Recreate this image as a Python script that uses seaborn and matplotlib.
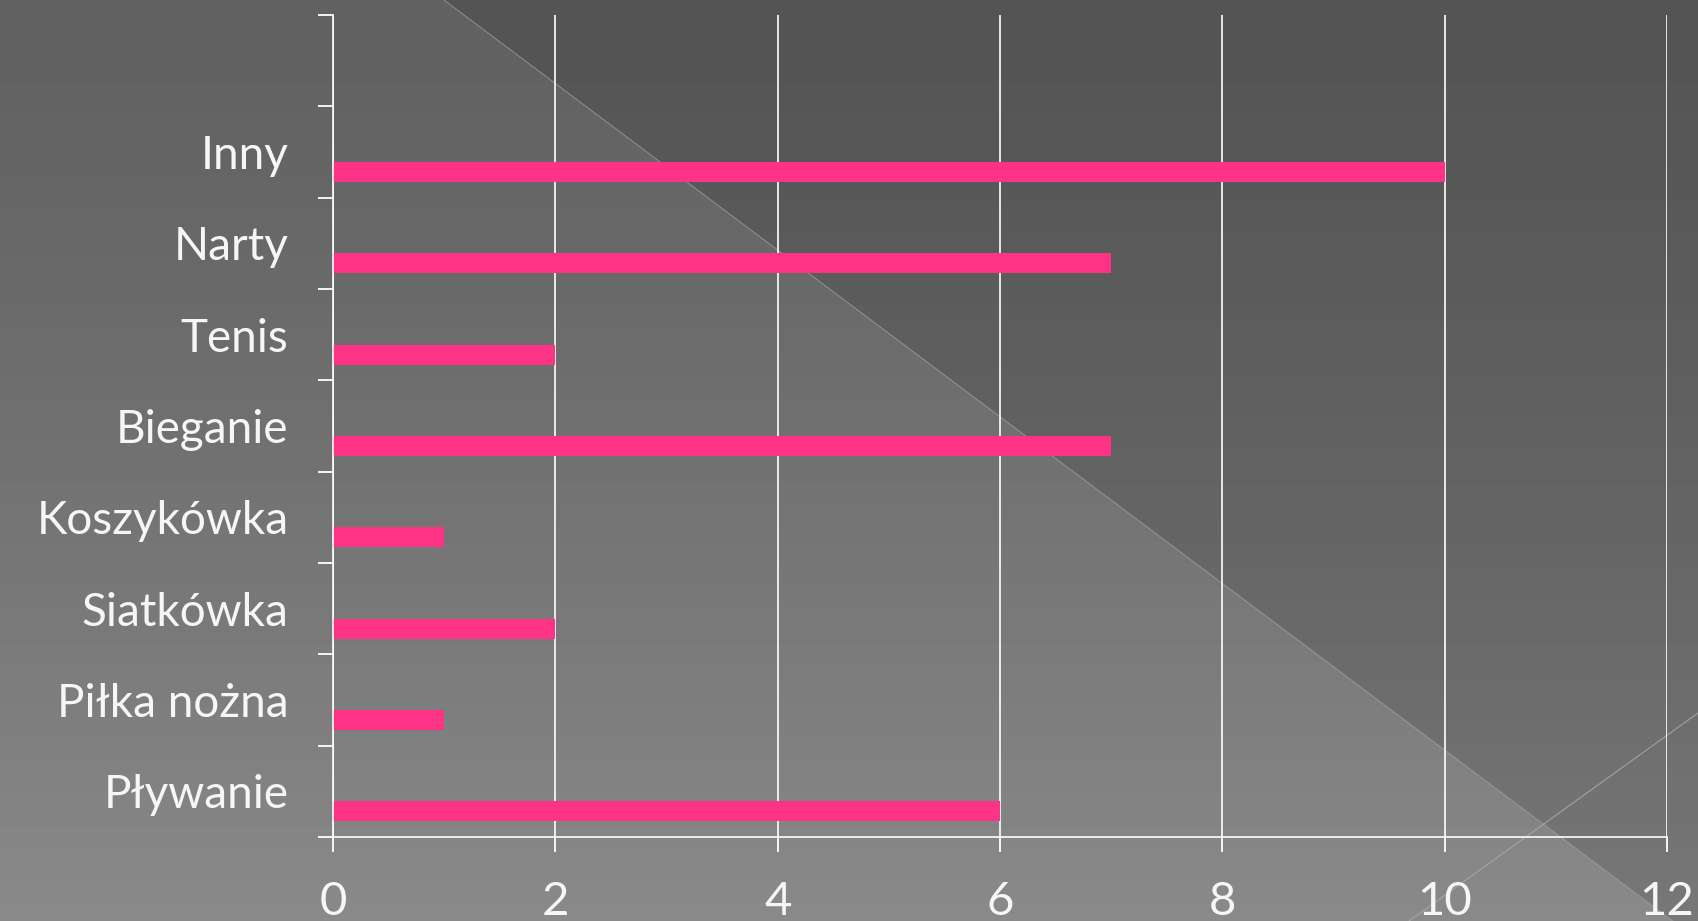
import numpy as np
import pandas as pd
import matplotlib
matplotlib.use("Agg")
import matplotlib.pyplot as plt
import seaborn as sns
from matplotlib.lines import Line2D
from matplotlib.patches import Polygon

# dane z wykresu (od góry do dołu)
kategorie = ["Inny", "Narty", "Tenis", "Bieganie", "Koszykówka",
             "Siatkówka", "Piłka nożna", "Pływanie"]
wartosci = [10, 7, 2, 7, 1, 2, 1, 6]
serie = ["Seria 1", "Seria 2", "Seria 3"]   # tylko Seria 3 ma dane
os_x = [0, 2, 4, 6, 8, 10, 12]

df = pd.DataFrame({"Sport": kategorie, "Liczba": wartosci, "Seria": "Seria 3"})

sns.set_style("white")
plt.rcParams["font.family"] = ["Lato", "DejaVu Sans"]

W, H = 1698, 921
fig = plt.figure(figsize=(W / 100, H / 100), dpi=100)

# tło: gradient + ciemniejszy trójkąt + cienkie ukośne linie
bg = fig.add_axes([0, 0, 1, 1], zorder=-5)
t = np.linspace(0, 1, 256)[:, None]
szary = 0.38 + 0.16 * t ** 1.3
bg.imshow(np.repeat(szary, 4, axis=1), cmap="gray", vmin=0, vmax=1,
          extent=[0, W, H, 0], aspect="auto")
bg.add_patch(Polygon([(444, 0), (W, 0), (W, 940)], closed=True,
                     facecolor="black", alpha=0.13, lw=0))
bg.add_line(Line2D([444, W], [0, 940], color="#a0a0a0", lw=0.8, alpha=0.7))
bg.add_line(Line2D([1409, W], [H, 713], color="#a8a8a8", lw=0.9, alpha=0.8))
bg.set_xlim(0, W)
bg.set_ylim(H, 0)
bg.axis("off")

ax = fig.add_axes([333 / W, 1 - 837 / H, (1667 - 333) / W, (837 - 15) / H])
ax.set_facecolor("none")

sns.barplot(data=df, y="Sport", x="Liczba", hue="Seria", hue_order=serie,
            palette={"Seria 1": "#ff3385", "Seria 2": "#ff3385", "Seria 3": "#ff3385"},
            order=kategorie, orient="y", width=0.66, dodge=True,
            linewidth=0, saturation=1, legend=False, ax=ax)

ax.set_xlim(0, 12)
ax.set_ylim(len(kategorie) - 0.5, -1.5)
ax.set_xticks(os_x)
ax.set_xticklabels([str(v) for v in os_x])
ax.set_xlabel("")
ax.set_ylabel("")

ax.grid(axis="x", color="white", lw=1.2)
ax.set_axisbelow(True)
for s in ["top", "right"]:
    ax.spines[s].set_visible(False)
for s in ["left", "bottom"]:
    ax.spines[s].set_color("white")
    ax.spines[s].set_linewidth(1.2)

granice = np.arange(-1.5, len(kategorie), 1.0)
ax.set_yticks(granice, minor=True)
ax.tick_params(axis="y", which="minor", left=True, length=11, width=1.3,
               color="white", direction="out")
ax.tick_params(axis="y", which="major", left=False, length=11, pad=21,
               labelsize=33, labelcolor="#f6f6f6")
ax.tick_params(axis="x", which="major", bottom=True, length=11, width=1.3,
               color="white", direction="out", pad=21, labelsize=34,
               labelcolor="#f6f6f6")

fig.savefig("out.png", dpi=100)
